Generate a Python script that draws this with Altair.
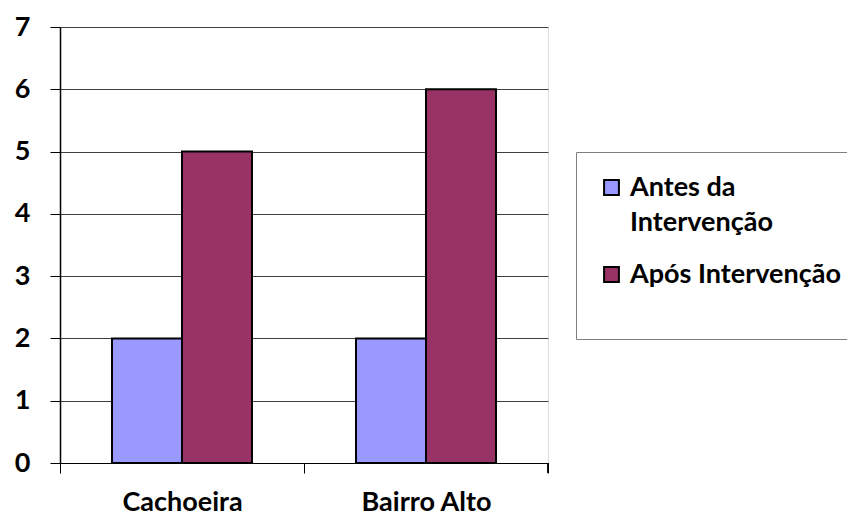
import altair as alt
import pandas as pd

locais = ["Cachoeira", "Cachoeira", "Bairro Alto", "Bairro Alto"]
periodos = ["Antes da Intervenção", "Após Intervenção", "Antes da Intervenção", "Após Intervenção"]
valores = [2, 5, 2, 6]

df = pd.DataFrame({"local": locais, "periodo": periodos, "valor": valores})

cat_order = ["Cachoeira", "Bairro Alto"]
ser_order = ["Antes da Intervenção", "Após Intervenção"]
colors = ["#9999FF", "#993366"]
FONT = "Lato"

bars = alt.Chart(df).mark_bar(stroke="black", strokeWidth=2, opacity=1).encode(
    x=alt.X("local:N", sort=cat_order, title=None,
            scale=alt.Scale(paddingInner=0, paddingOuter=0),
            axis=alt.Axis(labelAngle=0, tickBand="extent", tickSize=10, tickColor="#000000",
                          domainColor="#000000", labelFontSize=27, labelFont=FONT,
                          labelFontWeight="bold", labelColor="#000000", labelPadding=16,
                          grid=False)),
    xOffset=alt.XOffset("periodo:N", sort=ser_order,
                        scale=alt.Scale(paddingInner=0, paddingOuter=0.743)),
    y=alt.Y("valor:Q", title=None,
            scale=alt.Scale(domain=[0, 7], nice=False),
            axis=alt.Axis(values=[0, 1, 2, 3, 4, 5, 6, 7], tickSize=10, tickColor="#000000",
                          domainColor="#000000", domainWidth=1.5, labelFontSize=27,
                          labelFont=FONT, labelFontWeight="bold", labelColor="#000000",
                          labelPadding=20, gridColor="#404040", gridWidth=1)),
    color=alt.Color("periodo:N", sort=ser_order,
                    scale=alt.Scale(domain=ser_order, range=colors),
                    legend=alt.Legend(title=" ", titleOrient="bottom", titleFontSize=19,
                                      titlePadding=10,
                                      orient="none", legendX=516, legendY=125,
                                      strokeColor="#808080", fillColor="white",
                                      padding=22, symbolType="square", symbolSize=220,
                                      symbolStrokeColor="black", symbolStrokeWidth=2,
                                      labelFont=FONT, labelFontSize=27, labelFontWeight="bold",
                                      labelColor="#000000", labelLimit=400, rowPadding=24,
                                      labelOffset=5,
                                      labelExpr="datum.label == 'Antes da Intervenção' ? ['Antes da', 'Intervenção'] : datum.label")),
)

edge = alt.Chart(df).mark_rule(color="#000000").encode(
    x=alt.value(488), y=alt.value(436), y2=alt.value(446)
)

chart = alt.layer(bars, edge).properties(
    width=488, height=436,
    autosize=alt.AutoSizeParams(type="none"),
    padding={"left": 52, "top": 19, "right": 299, "bottom": 55},
    background="white",
).configure_view(
    fill="#C0C0C0", stroke="#808080", strokeWidth=1.5
).configure(
    style={"guide-label": {"lineHeight": 35}}
)

chart.save("out.html", embed_options={"renderer": "svg", "actions": False})
